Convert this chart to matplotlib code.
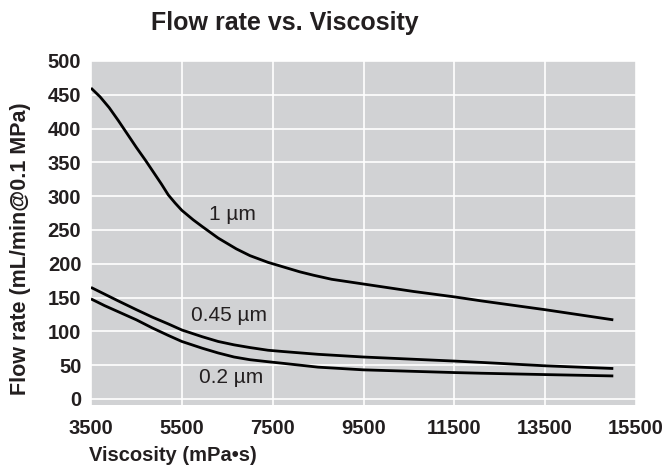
import matplotlib
matplotlib.use("Agg")
import matplotlib.pyplot as plt

# Data
x_1um = [3500, 3700, 3900, 4100, 4300, 4500, 4700, 4850, 5050, 5200, 5350, 5500, 5750, 5950,
         6300, 6700, 7000, 7400, 7750, 8100, 8400, 8800, 9500, 10000, 10600, 11500, 12100,
         13500, 14200, 15000]
y_1um = [460, 447, 431, 412, 392, 372, 353, 338, 318, 302, 290, 279, 265, 255,
         238, 222, 212, 202, 195, 188, 183, 177, 170, 165, 159, 151, 145,
         132, 125, 117]

x_045 = [3500, 3800, 4100, 4500, 4850, 5200, 5500, 5950, 6300, 6650, 7000, 7400, 7750,
         8500, 9500, 10500, 11500, 12100, 13500, 15000]
y_045 = [165, 155, 145, 132, 121, 111, 102, 92, 85, 80, 76, 72, 70,
         66, 62, 59, 56, 54, 49, 45]

x_02 = [3500, 3800, 4100, 4500, 4850, 5200, 5500, 5950, 6300, 6650, 7000, 7400, 7750,
        8500, 9500, 10500, 11500, 12100, 13500, 15000]
y_02 = [148, 138, 129, 117, 105, 94, 85, 75, 68, 62, 58, 55, 52.5,
        47, 43, 41, 39, 38, 36, 34]

curve_labels = ["1 µm", "0.45 µm", "0.2 µm"]
label_x = [6620, 6540, 6580]
label_y = [273, 124, 31]

x_ticks = [3500, 5500, 7500, 9500, 11500, 13500, 15500]
y_ticks = [0, 50, 100, 150, 200, 250, 300, 350, 400, 450, 500]

title = "Flow rate vs. Viscosity"
x_label = "Viscosity (mPa•s)"
y_label = "Flow rate (mL/min@0.1 MPa)"

plt.rcParams['font.family'] = ['Liberation Sans', 'DejaVu Sans']
txt = '#231f20'

fig = plt.figure(figsize=(6.64, 4.66), dpi=100)
ax = fig.add_axes([91/664, (466-405)/466, 545/664, 344/466])
ax.set_facecolor('#d1d2d4')

for xs, ys in [(x_1um, y_1um), (x_045, y_045), (x_02, y_02)]:
    ax.plot(xs, ys, color='black', lw=2.0, solid_capstyle='butt',
            solid_joinstyle='round', zorder=3)

for lab, lx, ly in zip(curve_labels, label_x, label_y):
    ax.text(lx, ly, lab, ha='center', va='center', fontsize=15, color=txt, zorder=4)

ax.set_xlim(3500, 15500)
ax.set_ylim(-9, 500)
ax.set_xticks(x_ticks)
ax.set_yticks(y_ticks)
ax.grid(True, color='white', lw=1.2)
ax.set_axisbelow(True)
for s in ax.spines.values():
    s.set_visible(False)
ax.tick_params(length=0, labelsize=14.5, colors=txt)
ax.tick_params(axis='x', pad=10)
ax.tick_params(axis='y', pad=7)
for t in ax.get_xticklabels() + ax.get_yticklabels():
    t.set_fontweight('bold')

ax.set_xlabel(x_label, fontsize=14.5, fontweight='bold', color=txt)
ax.xaxis.set_label_coords(0.15, -0.12)
ax.set_ylabel(y_label, fontsize=15.5, fontweight='bold', color=txt)
ax.yaxis.set_label_coords(-0.11, 0.453)

ax.text(0.356, 1.11, title, transform=ax.transAxes, ha='center', va='center',
        fontsize=18, fontweight='bold', color=txt)

fig.savefig('out.png', dpi=100)
